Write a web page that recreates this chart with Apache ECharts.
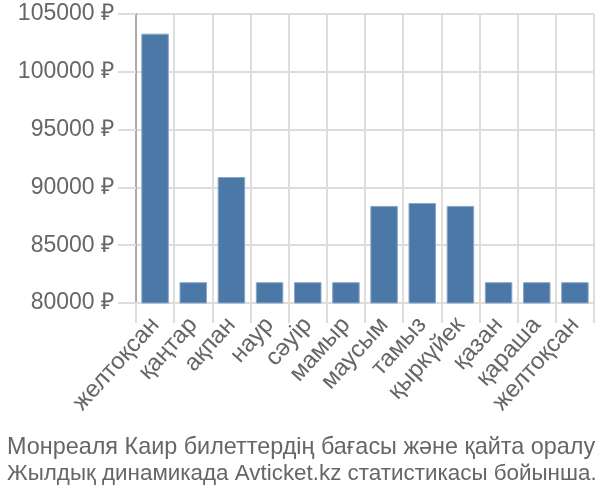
<!DOCTYPE html>
<html>
<head>
<meta charset="utf-8">
<script src="https://cdn.jsdelivr.net/npm/echarts@6/dist/echarts.min.js"></script>
<style>html,body{margin:0;padding:0;background:#fff}#c{width:600px;height:500px}</style>
</head>
<body>
<div id="c"></div>
<script>
const categories = ["желтоқсан","қаңтар","ақпан","наур","сәуір","мамыр","маусым","тамыз","қыркүйек","қазан","қараша","желтоқсан"];
const prices = [103300, 81800, 90900, 81800, 81800, 81800, 88400, 88650, 88400, 81800, 81800, 81800];
const yTicks = {min: 80000, max: 105000, interval: 5000};
const titleLines = ["Монреаля Каир билеттердің бағасы және қайта оралу", "Жылдық динамикада Avticket.kz статистикасы бойынша."];

const font = "Liberation Sans, Arial, sans-serif";
const chart = echarts.init(document.getElementById('c'), null, {renderer: 'canvas'});
chart.setOption({
  animation: false,
  title: {
    text: '{a|' + titleLines[0] + '}\n{b|' + titleLines[1] + '}',
    left: 2, top: 430,
    textStyle: {
      fontFamily: font, fontWeight: 'normal', color: '#666',
      rich: {
        a: {fontFamily: font, fontSize: 23.4, color: '#666', lineHeight: 26},
        b: {fontFamily: font, fontSize: 22.4, color: '#666', lineHeight: 26}
      }
    }
  },
  grid: {left: 136, right: 6, top: 14, bottom: 197, containLabel: false},
  xAxis: {
    type: 'category',
    data: categories,
    boundaryGap: true,
    axisLine: {show: true, lineStyle: {color: '#ddd', width: 2}},
    axisTick: {show: true, length: 20, lineStyle: {color: '#ddd', width: 2}},
    splitLine: {show: true, lineStyle: {color: '#ddd', width: 2}},
    axisLabel: {rotate: 48, margin: 18, fontFamily: font, fontSize: 24, color: '#666', interval: 0}
  },
  yAxis: {
    type: 'value',
    min: yTicks.min, max: yTicks.max, interval: yTicks.interval,
    axisLine: {show: true, lineStyle: {color: '#aaa', width: 2}},
    axisTick: {show: true, length: 18, lineStyle: {color: '#ddd', width: 2}},
    splitLine: {show: true, lineStyle: {color: '#ddd', width: 2}},
    axisLabel: {margin: 22, fontFamily: font, fontSize: 23, color: '#666', formatter: v => v + ' ₽'}
  },
  series: [{
    type: 'bar',
    data: prices,
    barCategoryGap: '28%',
    itemStyle: {color: '#4c78a8', borderColor: '#8aa6c6', borderWidth: 1}
  }]
});
</script>
</body>
</html>
